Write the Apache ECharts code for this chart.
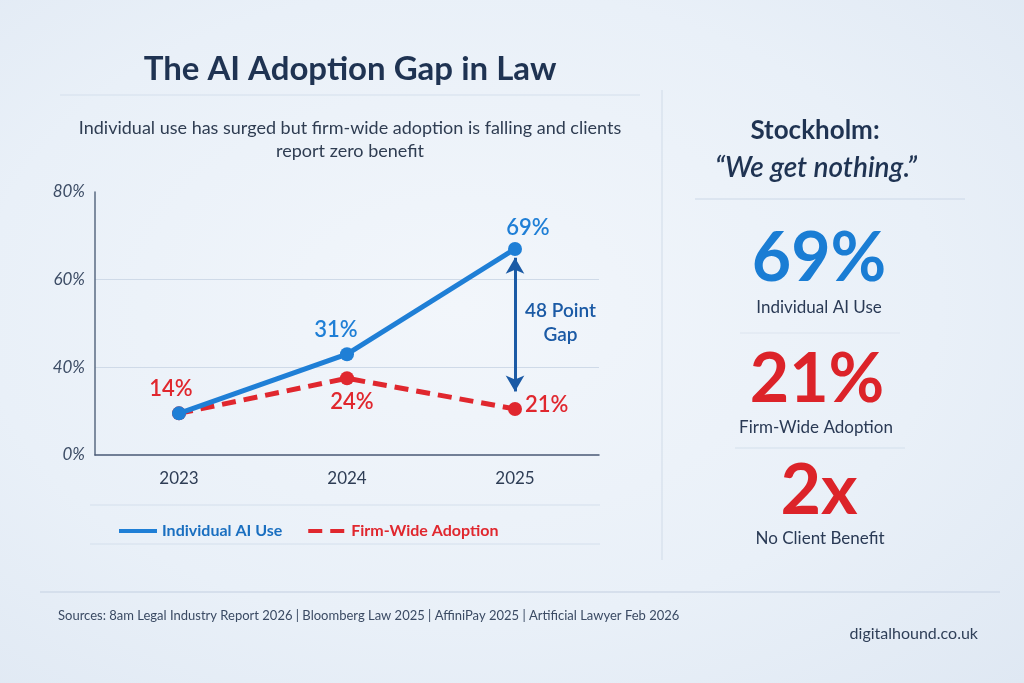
<!DOCTYPE html>
<html lang="en">
<head>
    <meta charset="UTF-8">
    <title>The AI Adoption Gap in Law</title>
    <script src="https://cdn.jsdelivr.net/npm/echarts@6/dist/echarts.min.js"></script>
    <style>
        html, body { margin: 0; padding: 0; }
        #main {
            width: 1024px; height: 683px;
            background: radial-gradient(ellipse at 45% 45%, #f2f6fb 0%, #e9f0f8 60%, #dfe8f3 100%);
        }
    </style>
</head>
<body>
<div id="main"></div>
<script type="text/javascript">
    // values
    var years = ['2023', '2024', '2025'];
    var yTickLabels = ['0%', '40%', '60%', '80%'];
    // plotted height of each point on the drawn axis (in %)
    var individualPos = [19, 43, 67];
    var firmPos = [19, 35, 21];
    // text printed next to each point
    var individualLabels = ['', '31%', '69%'];
    var firmLabels = ['14%', '24%', '21%'];
    // the "48 point gap" arrow, bottom and top (in %)
    var gapArrow = [29, 65];

    var BLUE = '#1f7fd6', RED = '#e0272e', NAVY = '#1f3352', ARROW = '#1b5aa5';
    var FONT = 'Lato, "Open Sans", sans-serif';

    // the drawn axis is 0 -> 40 -> 60 -> 80 with equal steps
    function toAxis(v) {
        return v <= 40 ? v / 40 : 1 + (v - 40) / 20;
    }

    var indLabelStyle = [
        null,
        {position: 'top', distance: 0, offset: [-11, -6]},
        {position: 'top', distance: 0, offset: [13, -3]}
    ];
    var firmLabelStyle = [
        {position: 'top', distance: 0, offset: [-8, -6]},
        {position: 'bottom', distance: 0, offset: [5, 6]},
        {position: 'right', distance: 0, offset: [3, -4]}
    ];

    function buildData(pos, labels, styles, color) {
        return pos.map(function (v, i) {
            var lab = styles[i] ? Object.assign({
                show: true,
                formatter: labels[i],
                color: color,
                fontSize: 22,
                fontWeight: 600,
                fontFamily: FONT
            }, styles[i]) : {show: false};
            return {value: toAxis(v), label: lab};
        });
    }

    var myChart = echarts.init(document.getElementById('main'));

    var option = {
        backgroundColor: 'transparent',
        textStyle: {fontFamily: FONT},
        title: [{
            text: 'The AI Adoption Gap in Law',
            left: 345, top: 48, textAlign: 'center',
            textStyle: {fontSize: 33, fontWeight: 'bold', color: NAVY, fontFamily: FONT}
        }, {
            text: 'Individual use has surged but firm-wide adoption is falling and clients\nreport zero benefit',
            left: 345, top: 112, textAlign: 'center',
            textStyle: {fontSize: 18, fontWeight: 'normal', color: '#2f3d52', lineHeight: 23, fontFamily: FONT}
        }],
        legend: {
            left: 112, top: 518,
            itemWidth: 38, itemHeight: 14, itemGap: 24,
            itemStyle: {opacity: 0},
            lineStyle: {width: 4},
            data: [
                {name: 'Individual AI Use', textStyle: {color: '#1a6fc0', fontWeight: 'bold', fontSize: 16}},
                {name: 'Firm-Wide Adoption', textStyle: {color: RED, fontWeight: 'bold', fontSize: 16}}
            ]
        },
        grid: {left: 95, right: 425, top: 192, bottom: 228},
        xAxis: {
            type: 'category',
            data: years,
            boundaryGap: true,
            axisLine: {lineStyle: {color: '#4a5a75', width: 1.5}},
            axisTick: {show: false},
            axisLabel: {color: '#2e3d55', fontSize: 17, margin: 15, fontFamily: FONT}
        },
        yAxis: {
            type: 'value',
            min: 0, max: 3, interval: 1,
            axisLine: {show: true, lineStyle: {color: '#5a6a82', width: 1.5}},
            axisTick: {show: false},
            axisLabel: {
                color: '#3d4d66', fontSize: 17, fontStyle: 'italic', margin: 10, fontFamily: FONT,
                formatter: function (v) { return yTickLabels[v]; }
            },
            splitLine: {lineStyle: {color: ['transparent', '#cfdae8', '#cfdae8', 'transparent'], width: 1}}
        },
        series: [{
            name: 'Firm-Wide Adoption',
            type: 'line',
            data: buildData(firmPos, firmLabels, firmLabelStyle, RED),
            symbol: 'circle', symbolSize: 14,
            lineStyle: {color: RED, width: 5, type: [14, 8]},
            itemStyle: {color: RED},
            z: 2
        }, {
            name: 'Individual AI Use',
            type: 'line',
            data: buildData(individualPos, individualLabels, indLabelStyle, BLUE),
            symbol: 'circle', symbolSize: 14,
            lineStyle: {color: BLUE, width: 5},
            itemStyle: {color: BLUE},
            z: 3,
            markLine: {
                silent: true,
                symbol: ['arrow', 'arrow'],
                symbolSize: [14, 16],
                lineStyle: {color: ARROW, width: 3, type: 'solid'},
                label: {show: false},
                data: [[
                    {coord: [years[2], toAxis(gapArrow[0])]},
                    {coord: [years[2], toAxis(gapArrow[1])]}
                ]]
            }
        }],
        graphic: [
            // gap annotation text
            {type: 'text', left: 565 - 40, top: 299, style: {text: '48 Point\nGap', fill: ARROW, font: '600 19px ' + FONT, textAlign: 'center', lineHeight: 24, x: 40}},
            // divider lines
            {type: 'line', shape: {x1: 60, y1: 95, x2: 640, y2: 95}, style: {stroke: '#d4dfec', lineWidth: 1}},
            {type: 'line', shape: {x1: 662, y1: 90, x2: 662, y2: 560}, style: {stroke: '#d0dbe8', lineWidth: 1}},
            {type: 'line', shape: {x1: 90, y1: 505, x2: 600, y2: 505}, style: {stroke: '#d4dfec', lineWidth: 1}},
            {type: 'line', shape: {x1: 90, y1: 544, x2: 600, y2: 544}, style: {stroke: '#d4dfec', lineWidth: 1}},
            {type: 'line', shape: {x1: 695, y1: 199, x2: 965, y2: 199}, style: {stroke: '#cbd8e8', lineWidth: 1.2}},
            {type: 'line', shape: {x1: 740, y1: 333, x2: 900, y2: 333}, style: {stroke: '#dce4ef', lineWidth: 1}},
            {type: 'line', shape: {x1: 735, y1: 448, x2: 905, y2: 448}, style: {stroke: '#d4dfec', lineWidth: 1.2}},
            {type: 'line', shape: {x1: 40, y1: 592, x2: 1000, y2: 592}, style: {stroke: '#cfdae8', lineWidth: 1.5}},
            // right panel
            {type: 'text', x: 815, y: 131, style: {text: 'Stockholm:', fill: NAVY, font: 'bold 26px ' + FONT, textAlign: 'center', textVerticalAlign: 'middle'}},
            {type: 'text', x: 816, y: 168, style: {text: '\u201cWe get nothing.\u201d', fill: NAVY, font: 'italic 600 28px ' + FONT, textAlign: 'center', textVerticalAlign: 'middle'}},
            {type: 'text', x: 819, y: 259, style: {text: '69%', fill: '#1a7dd4', font: 'bold 68px ' + FONT, textAlign: 'center', textVerticalAlign: 'middle'}},
            {type: 'text', x: 819, y: 308, style: {text: 'Individual AI Use', fill: '#2a3a55', font: '17px ' + FONT, textAlign: 'center', textVerticalAlign: 'middle'}},
            {type: 'text', x: 817, y: 380, style: {text: '21%', fill: '#dc2329', font: 'bold 68px ' + FONT, textAlign: 'center', textVerticalAlign: 'middle'}},
            {type: 'text', x: 816, y: 428, style: {text: 'Firm-Wide Adoption', fill: '#2a3a55', font: '17px ' + FONT, textAlign: 'center', textVerticalAlign: 'middle'}},
            {type: 'text', x: 819, y: 491, style: {text: '2x', fill: '#dc2329', font: 'bold 70px ' + FONT, textAlign: 'center', textVerticalAlign: 'middle'}},
            {type: 'text', x: 820, y: 539, style: {text: 'No Client Benefit', fill: '#2a3a55', font: '17px ' + FONT, textAlign: 'center', textVerticalAlign: 'middle'}},
            // footer
            {type: 'text', x: 58, y: 616, style: {text: 'Sources: 8am Legal Industry Report 2026 | Bloomberg Law 2025 | AffiniPay 2025 | Artificial Lawyer Feb 2026', fill: '#3a4a63', font: '13px ' + FONT, textVerticalAlign: 'middle'}},
            {type: 'text', x: 978, y: 634, style: {text: 'digitalhound.co.uk', fill: '#2f3f58', font: '16px ' + FONT, textAlign: 'right', textVerticalAlign: 'middle'}}
        ]
    };
    myChart.setOption(option);
</script>
</body>
</html>
